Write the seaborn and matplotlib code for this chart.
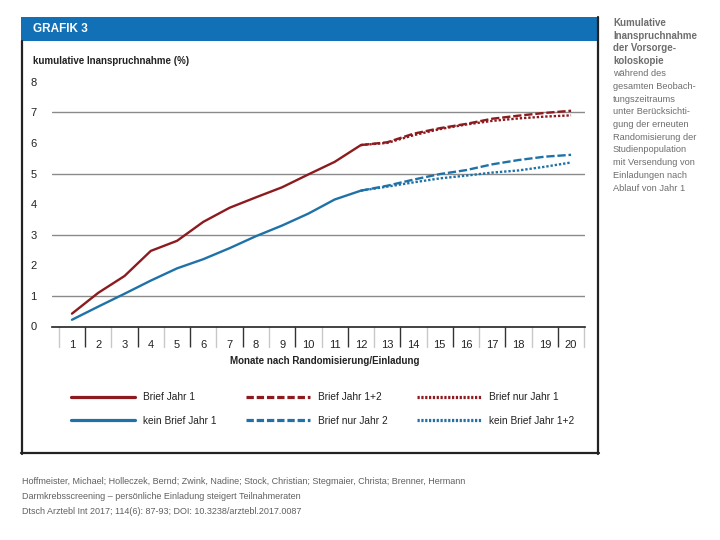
import matplotlib
matplotlib.use("Agg")
import matplotlib.pyplot as plt
from matplotlib.patches import Rectangle
from matplotlib.lines import Line2D
import seaborn as sns
import pandas as pd

# ---------------- data ----------------
months_y1 = [1, 2, 3, 4, 5, 6, 7, 8, 9, 10, 11, 12]
brief_jahr1 = [0.42, 1.10, 1.65, 2.47, 2.80, 3.42, 3.88, 4.22, 4.55, 4.97, 5.38, 5.93]
kein_brief_jahr1 = [0.22, 0.65, 1.07, 1.50, 1.90, 2.20, 2.56, 2.95, 3.30, 3.69, 4.15, 4.44]

months_y2 = [12, 13, 14, 15, 16, 17, 18, 19, 20]
brief_jahr12 = [5.93, 6.02, 6.30, 6.48, 6.62, 6.79, 6.89, 6.98, 7.05]
brief_nur_jahr1 = [5.93, 6.00, 6.25, 6.45, 6.60, 6.72, 6.80, 6.86, 6.90]
brief_nur_jahr2 = [4.44, 4.60, 4.80, 4.98, 5.11, 5.30, 5.44, 5.55, 5.61]
kein_brief_jahr12 = [4.44, 4.57, 4.71, 4.84, 4.93, 5.03, 5.10, 5.22, 5.36]

x_ticks = list(range(1, 21))
y_ticks = list(range(0, 9))
grid_levels = [1, 3, 5, 7]

series_labels = ["Brief Jahr 1", "kein Brief Jahr 1", "Brief Jahr 1+2",
                 "Brief nur Jahr 2", "Brief nur Jahr 1", "kein Brief Jahr 1+2"]

title_text = "GRAFIK 3"
ylabel_text = "kumulative Inanspruchnahme (%)"
xlabel_text = "Monate nach Randomisierung/Einladung"
side_bold = ["Kumulative", "Inanspruchnahme", "der Vorsorge-", "koloskopie"]
side_regular = ["während des", "gesamten Beobach-", "tungszeitraums", "unter Berücksichti-",
                "gung der erneuten", "Randomisierung der", "Studienpopulation",
                "mit Versendung von", "Einladungen nach", "Ablauf von Jahr 1"]
footer = ["Hoffmeister, Michael; Holleczek, Bernd; Zwink, Nadine; Stock, Christian; Stegmaier, Christa; Brenner, Hermann",
          "Darmkrebsscreening – persönliche Einladung steigert Teilnahmeraten",
          "Dtsch Arztebl Int 2017; 114(6): 87-93; DOI: 10.3238/arztebl.2017.0087"]

# ---------------- style ----------------
sns.set_style("white")
plt.rcParams['font.family'] = ['Liberation Sans Narrow', 'Liberation Sans', 'DejaVu Sans']

RED = "#8c1b1f"
BLUE = "#1f72a8"
DARK = "#222222"
W, H = 720, 540

fig = plt.figure(figsize=(7.2, 5.4), dpi=100)

def fx(px):
    return px / W

def fy(py):
    return 1 - py / H

# frame + header
fig.patches.append(Rectangle((fx(21), fy(41)), fx(597) - fx(21), fy(17) - fy(41),
                             transform=fig.transFigure, facecolor="#1170b6", edgecolor="none"))
for (x0, y0, x1, y1) in [(21.5, 41, 21.5, 453.5), (21, 453, 598.5, 453), (597.5, 17, 597.5, 453.5)]:
    fig.add_artist(Line2D([fx(x0), fx(x1)], [fy(y0), fy(y1)], transform=fig.transFigure,
                          color=DARK, lw=1.6))
fig.text(fx(33), fy(29), title_text, color="white", fontsize=8.5, fontweight="bold",
         va="center", ha="left")

# axes
ax_left, ax_right = 52, 585
ax_top, ax_bottom = 81.7, 326.5
ax = fig.add_axes([fx(ax_left), fy(ax_bottom), (ax_right - ax_left) / W, (ax_bottom - ax_top) / H])
ax.set_facecolor("none")

for lvl in grid_levels:
    ax.axhline(lvl, color="#8a8a8a", lw=1.0, zorder=1)

df1 = pd.DataFrame({"Monat": months_y1 * 2,
                    "Wert": brief_jahr1 + kein_brief_jahr1,
                    "Serie": ["Brief Jahr 1"] * 12 + ["kein Brief Jahr 1"] * 12})
sns.lineplot(data=df1, x="Monat", y="Wert", hue="Serie",
             palette={"Brief Jahr 1": RED, "kein Brief Jahr 1": BLUE},
             lw=1.7, ax=ax, legend=False, zorder=3)

dashed = (0, (3.5, 1.2))
dotted = (0, (1.0, 0.8))
for vals, col, ls in [(brief_jahr12, RED, dashed), (brief_nur_jahr1, RED, dotted),
                      (brief_nur_jahr2, BLUE, dashed), (kein_brief_jahr12, BLUE, dotted)]:
    sns.lineplot(x=months_y2, y=vals, color=col, lw=1.7, linestyle=ls, ax=ax, zorder=3)

ax.set_xlim(0.24, 20.53)
ax.set_ylim(0, 8)
ax.set_xticks(x_ticks)
ax.set_xticklabels([str(v) for v in x_ticks])
# dark cell separators as minor ticks (1.5, 3.5, ...)
ax.set_xticks([v + 0.5 for v in x_ticks if v % 2 == 1], minor=True)
ax.set_yticks(y_ticks)
ax.set_yticklabels([str(v) for v in y_ticks])
ax.tick_params(axis="x", which="both", bottom=True)
ax.tick_params(axis="x", which="major", length=0, pad=10, labelsize=8, labelcolor=DARK)
ax.tick_params(axis="x", which="minor", length=14.5, width=1.0, direction="out", color="#333333")
ax.tick_params(axis="y", which="major", length=0, pad=11, labelsize=8, labelcolor=DARK)
# light cell separators (0.5, 2.5, ..., 20.5)
xf = ax.get_xaxis_transform()
for v in x_ticks + [21]:
    if v % 2 == 1:
        ax.plot([v - 0.5, v - 0.5], [0, -0.082], color="#c8c8c8", lw=1.0,
                transform=xf, clip_on=False, zorder=0)

for s in ["top", "right", "left"]:
    ax.spines[s].set_visible(False)
ax.spines["bottom"].set_color(DARK)
ax.spines["bottom"].set_linewidth(1.2)
ax.set_xlabel("")
ax.set_ylabel("")

fig.text(fx(33), fy(61), ylabel_text, color=DARK, fontsize=7.0, fontweight="bold",
         va="center", ha="left")
fig.text(fx(325), fy(361), xlabel_text, color=DARK, fontsize=7.0, fontweight="bold",
         va="center", ha="center")

# legend
handles = [
    Line2D([], [], color=RED, lw=2.3),
    Line2D([], [], color=BLUE, lw=2.3),
    Line2D([], [], color=RED, lw=2.3, linestyle=(0, (2.3, 0.9))),
    Line2D([], [], color=BLUE, lw=2.3, linestyle=(0, (2.3, 0.9))),
    Line2D([], [], color=RED, lw=2.3, linestyle=(0, (0.7, 0.5))),
    Line2D([], [], color=BLUE, lw=2.3, linestyle=(0, (0.7, 0.5))),
]
fig.legend(handles, series_labels, ncol=3, loc="center",
           bbox_to_anchor=(fx(322.5), fy(409)), frameon=False, fontsize=7.3,
           handlelength=6.3, handletextpad=0.8, columnspacing=2.9, labelspacing=1.3,
           labelcolor=DARK)

# side text
side_color = "#6e6e6e"
y = 23
for line in side_bold:
    fig.text(fx(613), fy(y), line, color=side_color, fontsize=7.0, fontweight="bold",
             va="center", ha="left")
    y += 12.7
for line in side_regular:
    fig.text(fx(613), fy(y), line, color=side_color, fontsize=6.7,
             va="center", ha="left")
    y += 12.7

# footer
for i, line in enumerate(footer):
    fig.text(fx(22), fy(482 + i * 14.5), line, color="#606060", fontsize=6.5,
             va="center", ha="left", family=["Liberation Sans", "DejaVu Sans"])

fig.savefig("out.png", dpi=100)
